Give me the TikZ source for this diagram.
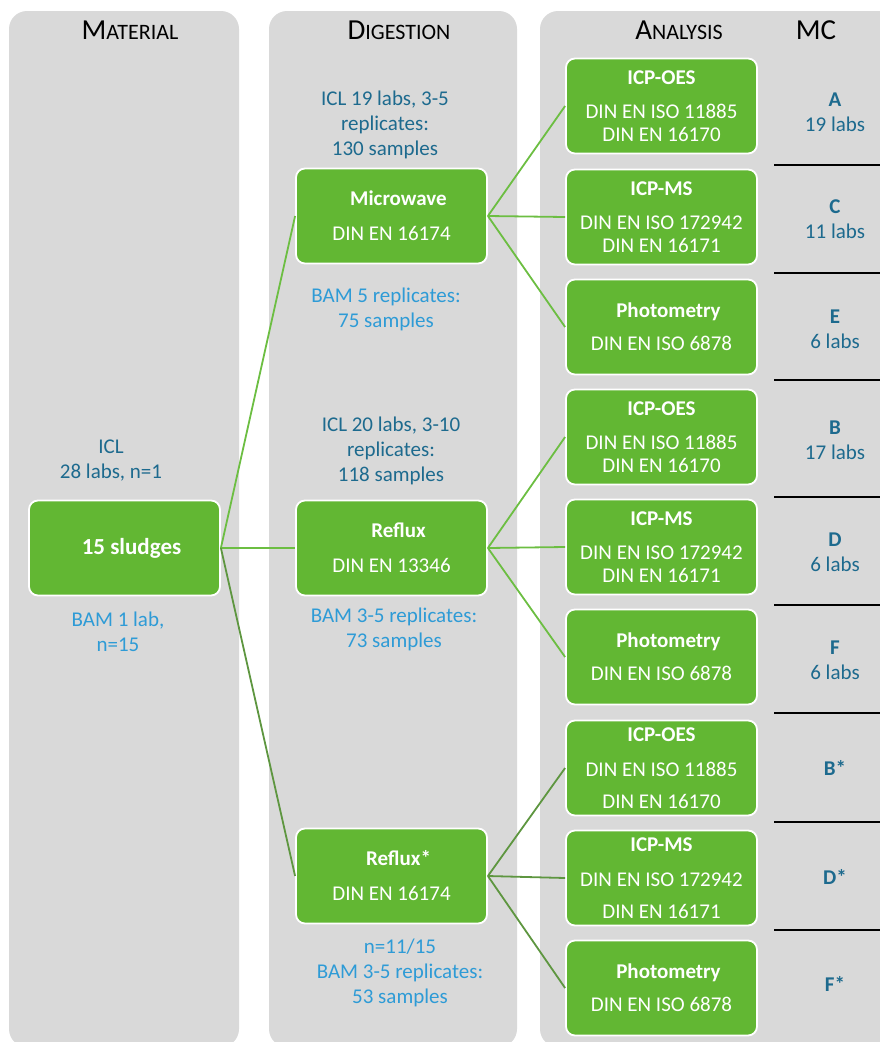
\documentclass[tikz,border=0pt]{standalone}
\usepackage{fontspec}
\setmainfont{Carlito}
\usepackage{tikz}
\usetikzlibrary{positioning}
\definecolor{panel}{HTML}{D9D9D9}
\definecolor{leaf}{HTML}{62B733}
\definecolor{twig}{HTML}{6CBE42}
\definecolor{moss}{HTML}{5E9640}
\definecolor{iclblue}{HTML}{1D6A8E}
\definecolor{bamblue}{HTML}{2E9BD6}
\newcommand{\colhead}[2]{{\fontsize{29}{30}\selectfont #1}#2}
\newcommand{\boxtitle}[1]{\textbf{\hspace*{14pt}#1}}
\tikzset{
  column/.style={fill=panel, rounded corners=18pt},
  heading/.style={font=\fontsize{22}{26}\selectfont, text=black, inner sep=0pt},
  stage/.style={rectangle, rounded corners=9pt, draw=white, line width=1.8pt, fill=leaf,
                text=white, minimum width=191pt, minimum height=95pt, align=center,
                font=\fontsize{21}{23}\selectfont, inner sep=2pt},
  iclnote/.style={text=iclblue, align=center, font=\fontsize{21}{25}\selectfont},
  bamnote/.style={text=bamblue, align=center, font=\fontsize{21}{25}\selectfont},
  mclabel/.style={text=iclblue, align=center, font=\fontsize{21}{25}\selectfont},
  link/.style={draw=twig, line width=1.8pt},
  darklink/.style={draw=moss, line width=1.8pt},
  divider/.style={draw=black, line width=1.5pt}
}
\begin{document}
\begin{tikzpicture}[x=1pt,y=-1pt]
  \useasboundingbox (0,0) rectangle (880,1042);
  \clip (0,0) rectangle (880,1042);

  % columns
  \fill[column] (9,11) rectangle (239,1047);
  \fill[column] (269,11) rectangle (517,1047);
  \fill[column] (540,11) rectangle (910,1047);

  \node[heading] (hmat) at (130,30) {\colhead{M}{ATERIAL}};
  \node[heading] (hdig) at (399,30) {\colhead{D}{IGESTION}};
  \node[heading] (hana) at (679,30) {\colhead{A}{NALYSIS}};
  \node[heading] (hmc) at (816,30) {\colhead{MC}{}};

  % material
  \node[stage] (sludges) at (124.5,548) {\fontsize{23}{25}\selectfont\boxtitle{15 sludges}};
  \node[iclnote] (iclMat) at (111,461) {ICL\\28 labs, n=1};
  \node[bamnote] (bamMat) at (118,632) {BAM 1 lab,\\n=15};

  % digestion
  \node[stage] (microwave) at (391.5,216) {\boxtitle{Microwave}\\[12pt]DIN EN 16174};
  \node[stage] (reflux) at (391.5,548) {\boxtitle{Reflux}\\[12pt]DIN EN 13346};
  \node[stage] (refluxstar) at (391.5,876) {\boxtitle{Reflux*}\\[12pt]DIN EN 16174};
  \node[iclnote] (iclMw) at (385,125) {ICL 19 labs, 3-5\\replicates:\\130 samples};
  \node[bamnote] (bamMw) at (386,309) {BAM 5 replicates:\\75 samples};
  \node[iclnote] (iclRf) at (391,451) {ICL 20 labs, 3-10\\replicates:\\118 samples};
  \node[bamnote] (bamRf) at (394,629) {BAM 3-5 replicates:\\73 samples};
  \node[bamnote] (bamRs) at (400,973) {n=11/15\\BAM 3-5 replicates:\\53 samples};

  % analysis
  \node[stage] (oesMw) at (661.5,106) {\textbf{ICP-OES}\\[11pt]DIN EN ISO 11885\\DIN EN 16170};
  \node[stage] (msMw) at (661.5,217) {\textbf{ICP-MS}\\[11pt]DIN EN ISO 172942\\DIN EN 16171};
  \node[stage] (photoMw) at (661.5,327) {\boxtitle{Photometry}\\[10pt]DIN EN ISO 6878};
  \node[stage] (oesRf) at (661.5,437) {\textbf{ICP-OES}\\[11pt]DIN EN ISO 11885\\DIN EN 16170};
  \node[stage] (msRf) at (661.5,547) {\textbf{ICP-MS}\\[11pt]DIN EN ISO 172942\\DIN EN 16171};
  \node[stage] (photoRf) at (661.5,657) {\boxtitle{Photometry}\\[10pt]DIN EN ISO 6878};
  \node[stage] (oesRs) at (661.5,768) {\textbf{ICP-OES}\\[12pt]DIN EN ISO 11885\\[9pt]DIN EN 16170};
  \node[stage] (msRs) at (661.5,878) {\textbf{ICP-MS}\\[12pt]DIN EN ISO 172942\\[9pt]DIN EN 16171};
  \node[stage] (photoRs) at (661.5,988) {\boxtitle{Photometry}\\[10pt]DIN EN ISO 6878};

  % MC
  \foreach \y in {165,273,380,497,605,713,822,930}
    \draw[divider] (774,\y) -- (890,\y);
  \node[mclabel] (mcA) at (835,112) {\textbf{A}\\19 labs};
  \node[mclabel] (mcC) at (835,219) {\textbf{C}\\11 labs};
  \node[mclabel] (mcE) at (835,329) {\textbf{E}\\6 labs};
  \node[mclabel] (mcB) at (835,440) {\textbf{B}\\17 labs};
  \node[mclabel] (mcD) at (835,552) {\textbf{D}\\6 labs};
  \node[mclabel] (mcF) at (835,660) {\textbf{F}\\6 labs};
  \node[mclabel] (mcBs) at (835,768) {\textbf{B*}};
  \node[mclabel] (mcDs) at (835,877) {\textbf{D*}};
  \node[mclabel] (mcFs) at (835,984) {\textbf{F*}};

  % links
  \draw[link] (sludges.east) -- (microwave.west);
  \draw[link] (sludges.east) -- (reflux.west);
  \draw[darklink] (sludges.east) -- (refluxstar.west);
  \foreach \t in {oesMw,msMw,photoMw}
    \draw[link] (microwave.east) -- (\t.west);
  \foreach \t in {oesRf,msRf,photoRf}
    \draw[link] (reflux.east) -- (\t.west);
  \foreach \t in {oesRs,msRs,photoRs}
    \draw[darklink] (refluxstar.east) -- (\t.west);
\end{tikzpicture}
\end{document}
